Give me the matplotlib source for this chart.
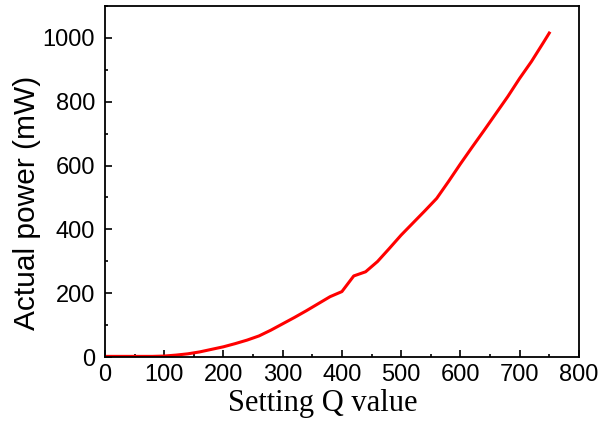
import numpy as np
import matplotlib
matplotlib.use("Agg")
import matplotlib.pyplot as plt
from matplotlib.ticker import MultipleLocator

q_set = [0, 20, 40, 60, 80, 100, 120, 140, 160, 180, 200, 220, 240, 260, 280,
         300, 320, 340, 360, 380, 400, 420, 440, 460, 480, 500, 520, 540, 560,
         580, 600, 620, 640, 660, 680, 700, 720, 740, 750]
power_mw = [2, 2, 2, 2, 2, 3, 6, 10, 16, 24, 32, 42, 53, 66, 84,
            104, 124, 145, 167, 189, 205, 254, 267, 299, 340, 382, 420, 458, 497,
            550, 605, 658, 710, 763, 816, 873, 926, 985, 1015]

fig = plt.figure(figsize=(6.03, 4.23), dpi=100)
ax = fig.add_axes([0.174, 0.156, 0.786, 0.830])

ax.plot(q_set, power_mw, color="#ff0000", linewidth=2.2)

ax.set_xlim(0, 800)
ax.set_ylim(0, 1100)
ax.xaxis.set_major_locator(MultipleLocator(100))
ax.xaxis.set_minor_locator(MultipleLocator(50))
ax.yaxis.set_major_locator(MultipleLocator(200))
ax.yaxis.set_minor_locator(MultipleLocator(100))

ax.tick_params(which="both", direction="in", width=1.2)
ax.tick_params(which="major", length=5, labelsize=17)
ax.tick_params(axis="x", which="major", pad=5)
ax.tick_params(axis="y", which="major", pad=7)
ax.tick_params(which="minor", length=2.5)
for lab in ax.get_xticklabels() + ax.get_yticklabels():
    lab.set_fontfamily("Liberation Sans")
for s in ax.spines.values():
    s.set_linewidth(1.3)

ax.set_xlabel("Setting Q value", fontfamily="Liberation Serif", fontsize=22)
ax.xaxis.set_label_coords(0.459, -0.09)
ax.set_ylabel("Actual power (mW)", fontfamily="Liberation Sans", fontsize=21.5)
ax.yaxis.set_label_coords(-0.135, 0.44)

fig.savefig("out.png", dpi=100)
